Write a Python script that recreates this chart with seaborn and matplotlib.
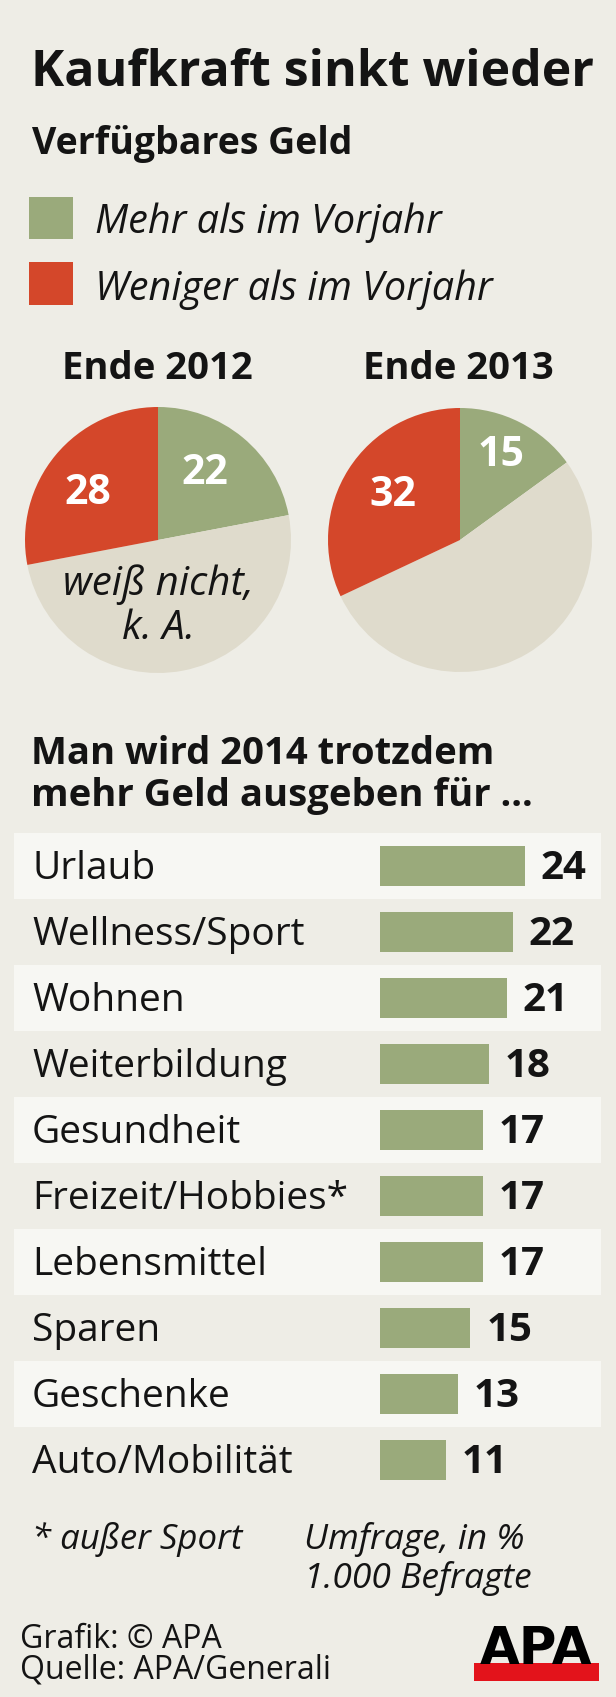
import matplotlib
matplotlib.use("Agg")
import matplotlib.pyplot as plt
import matplotlib.transforms as mtransforms
from matplotlib.patches import Rectangle
import seaborn as sns
import pandas as pd

# ---------------- data ----------------
categories = ["Urlaub", "Wellness/Sport", "Wohnen", "Weiterbildung", "Gesundheit",
              "Freizeit/Hobbies*", "Lebensmittel", "Sparen", "Geschenke", "Auto/Mobilität"]
values = [24, 22, 21, 18, 17, 17, 17, 15, 13, 11]

pie_titles = ["Ende 2012", "Ende 2013"]
legend_labels = ["Mehr als im Vorjahr", "Weniger als im Vorjahr"]
pie_2012 = [22, 50, 28]   # mehr, weiß nicht/k.A., weniger
pie_2013 = [15, 53, 32]

# ---------------- style ----------------
BG = "#EEEDE6"
BAND = "#F7F7F3"
GREEN = "#9AAA7B"
RED = "#D4472A"
GREY = "#DFDBCC"
INK = "#141414"

W, H = 616, 1697
sns.set_theme(style="white")
plt.rcParams['font.family'] = ['Open Sans', 'DejaVu Sans']

fig = plt.figure(figsize=(W / 100, H / 100), dpi=100)
fig.patch.set_facecolor(BG)


def fx(x):
    return x / W


def fy(y):
    return 1 - y / H


def add_ax(x0, y0, x1, y1):
    return fig.add_axes([x0 / W, 1 - y1 / H, (x1 - x0) / W, (y1 - y0) / H])


def txt(x, y, s, **kw):
    kw.setdefault("color", INK)
    kw.setdefault("va", "baseline")
    fig.text(fx(x), fy(y), s, **kw)


# ---------------- header ----------------
txt(31, 86, "Kaufkraft sinkt wieder", fontsize=36, fontweight="bold")
txt(32, 154, "Verfügbares Geld", fontsize=27, fontweight="bold")

for (y0, y1), col, lab, base in [((197, 239), GREEN, legend_labels[0], 233),
                                 ((262, 305), RED, legend_labels[1], 300)]:
    fig.patches.append(Rectangle((fx(29), fy(y1)), (73 - 29) / W, (y1 - y0) / H,
                                 transform=fig.transFigure, facecolor=col, edgecolor="none"))
    txt(95, base, lab, fontsize=28.5, fontstyle="italic")

# ---------------- pies ----------------
pies = [
    dict(vals=pie_2012, cx=158, cy=540, r=133, title_x=157,
         labels=[("22", 0.35, 0.50), ("28", -0.53, 0.35)]),
    dict(vals=pie_2013, cx=460, cy=540, r=132, title_x=458,
         labels=[("15", 0.31, 0.64), ("32", -0.51, 0.34)]),
]
for p, title in zip(pies, pie_titles):
    txt(p["title_x"], 379, title, fontsize=27.5, fontweight="bold", ha="center")
    ax = add_ax(p["cx"] - p["r"], p["cy"] - p["r"], p["cx"] + p["r"], p["cy"] + p["r"])
    ax.pie(p["vals"], colors=[GREEN, GREY, RED], startangle=90, counterclock=False,
           wedgeprops=dict(linewidth=0))
    ax.set_xlim(-1, 1)
    ax.set_ylim(-1, 1)
    ax.set_aspect("equal")
    ax.axis("off")
    for s, x, y in p["labels"]:
        ax.text(x, y, s, color="white", fontsize=29.5, fontweight="bold",
                ha="center", va="center")
    if p["vals"] is pie_2012:
        ax.text(0.0, -0.50, "weiß nicht,\nk. A.", color=INK, fontsize=29,
                fontstyle="italic", ha="center", va="center", linespacing=1.1)

# ---------------- bar section ----------------
txt(31, 764, "Man wird 2014 trotzdem", fontsize=27.5, fontweight="bold")
txt(31, 806, "mehr Geld ausgeben für ...", fontsize=27.5, fontweight="bold")

df = pd.DataFrame({"Kategorie": categories, "Wert": values})
ax = add_ax(14, 833, 601, 1493)
ax.set_facecolor(BG)
for i in range(0, len(categories), 2):
    ax.axhspan(i - 0.5, i + 0.5, color=BAND, zorder=0, linewidth=0)
sns.barplot(data=df, x="Wert", y="Kategorie", orient="h", color=GREEN, saturation=1,
            width=0.62, linewidth=0, ax=ax, zorder=2)
ax.set_xlim(-60.7, 36.65)
ax.set_ylim(len(categories) - 0.5, -0.5)
ax.axis("off")

blend = mtransforms.blended_transform_factory(ax.transAxes, ax.transData)
for i, (c, v) in enumerate(zip(categories, values)):
    ax.text((32 - 14) / 587, i + 0.19, c, transform=blend, fontsize=28, color=INK,
            va="baseline", ha="left")
    ax.text(v + 2.6, i + 0.2, str(v), fontsize=29, fontweight="bold", color=INK,
            va="baseline", ha="left")

# ---------------- footer ----------------
txt(32, 1549, "* außer Sport", fontsize=25, fontstyle="italic")
txt(304, 1549, "Umfrage, in %", fontsize=25.5, fontstyle="italic")
txt(304, 1588, "1.000 Befragte", fontsize=25.5, fontstyle="italic")
txt(20, 1648, "Grafik: © APA", fontsize=23)
txt(20, 1678, "Quelle: APA/Generali", fontsize=23)

# APA logo
fig.patches.append(Rectangle((fx(474), fy(1681)), (599 - 474) / W, (1681 - 1663) / H,
                             transform=fig.transFigure, facecolor="#E3131B", edgecolor="none"))
fig.text(fx(536.5), fy(1664), "APA", fontsize=37, fontweight="bold", color="black",
         ha="center", va="baseline", family=["DejaVu Sans"])

fig.savefig("out.png", dpi=100, facecolor=BG)
